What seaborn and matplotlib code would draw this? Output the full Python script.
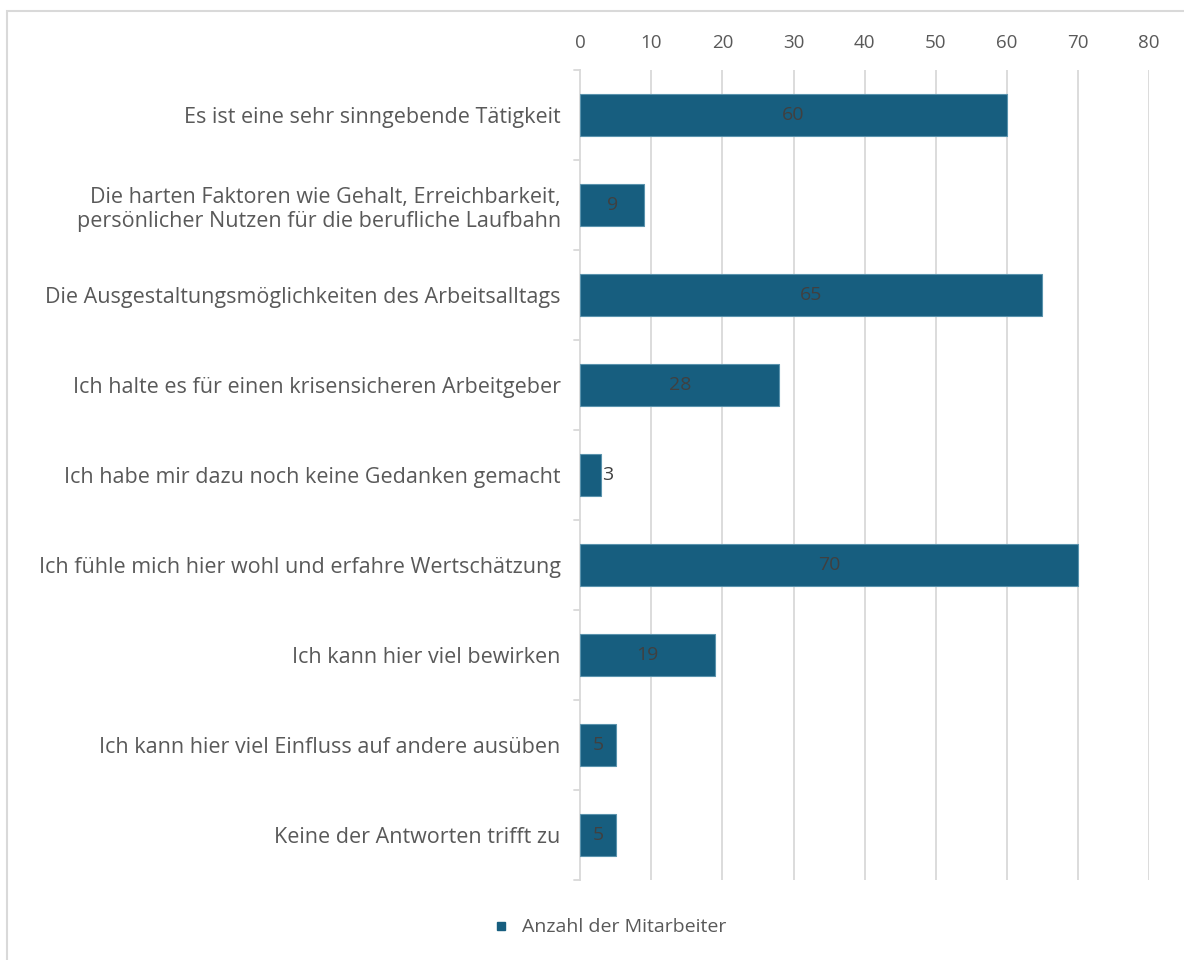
import matplotlib
matplotlib.use("Agg")
import matplotlib.pyplot as plt
import matplotlib.patches as mpatches
from matplotlib.lines import Line2D
import pandas as pd
import seaborn as sns

categories = [
    "Es ist eine sehr sinngebende Tätigkeit",
    "Die harten Faktoren wie Gehalt, Erreichbarkeit,\npersönlicher Nutzen für die berufliche Laufbahn",
    "Die Ausgestaltungsmöglichkeiten des Arbeitsalltags",
    "Ich halte es für einen krisensicheren Arbeitgeber",
    "Ich habe mir dazu noch keine Gedanken gemacht",
    "Ich fühle mich hier wohl und erfahre Wertschätzung",
    "Ich kann hier viel bewirken",
    "Ich kann hier viel Einfluss auf andere ausüben",
    "Keine der Antworten trifft zu",
]
values = [60, 9, 65, 28, 3, 70, 19, 5, 5]
series_name = "Anzahl der Mitarbeiter"
xticks = [0, 10, 20, 30, 40, 50, 60, 70, 80]

df = pd.DataFrame({"Kategorie": categories, series_name: values})

sns.set_theme(style="white")
plt.rcParams["font.family"] = ["Open Sans", "DejaVu Sans"]

bar_color = "#175E7F"
text_color = "#595959"
label_color = "#404040"
grid_color = "#D9D9D9"

fig = plt.figure(figsize=(11.84, 9.6), dpi=100)
ax = fig.add_axes([0.49, 0.0833, 0.4805, 0.8437])

sns.barplot(data=df, y="Kategorie", x=series_name, color=bar_color,
            saturation=1, width=0.47, edgecolor="#5a93ad", linewidth=0.8,
            ax=ax, zorder=3)

ax.set_xlim(0, 80)
ax.set_ylim(len(categories) - 0.5, -0.5)
ax.set_xticks(xticks)
ax.xaxis.tick_top()
ax.tick_params(axis="x", length=0, pad=13, labelsize=13.5, labelcolor=text_color)
ax.tick_params(axis="y", length=0, pad=14, labelsize=15.5, labelcolor=text_color)
for lbl in ax.get_yticklabels():
    lbl.set_horizontalalignment("right")
    lbl.set_multialignment("right")
ax.set_xlabel("")
ax.set_ylabel("")

for x in xticks[1:]:
    ax.axvline(x, color=grid_color, lw=1.3, zorder=1)

for s in ["top", "right", "bottom"]:
    ax.spines[s].set_visible(False)
ax.spines["left"].set_color(grid_color)
ax.spines["left"].set_linewidth(1.3)

# small tick marks between categories on the category axis
for b in [i - 0.5 for i in range(len(categories) + 1)]:
    ax.add_line(Line2D([-0.8, 0], [b, b], color=grid_color, lw=1.3,
                       clip_on=False, zorder=2))

for i, v in enumerate(values):
    ax.text(v / 2 if v > 4 else v + 0.1, i, str(v),
            ha="center" if v > 4 else "left", va="center",
            fontsize=14, color=label_color, zorder=4)

handle = Line2D([], [], marker="s", linestyle="none", markersize=6,
                color=bar_color)
fig.legend([handle], [series_name], loc="center", bbox_to_anchor=(0.51, 0.034),
           frameon=False, fontsize=14, labelcolor=text_color,
           handletextpad=0.1)

fig.patches.append(mpatches.Rectangle((0.006, -0.01), 1.0, 0.999,
                                      transform=fig.transFigure, fill=False,
                                      edgecolor="#D9D9D9", lw=1.5))

fig.savefig("out.png", dpi=100)
